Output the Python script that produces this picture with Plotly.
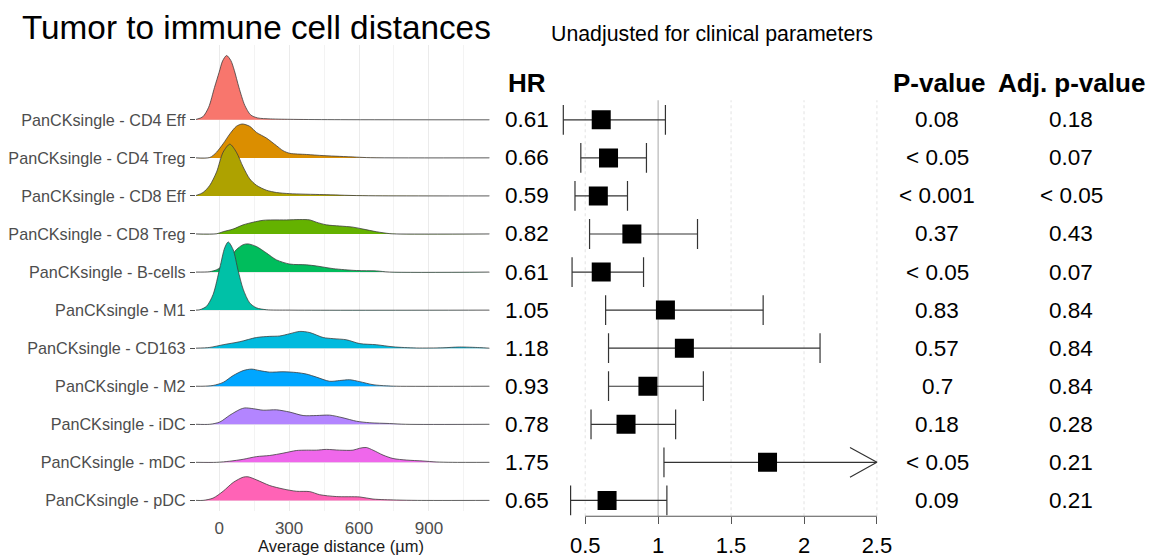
import plotly.graph_objects as go

W, H = 1149, 558

# ---------------- data ----------------
cells = ["PanCKsingle - CD4 Eff", "PanCKsingle - CD4 Treg", "PanCKsingle - CD8 Eff",
         "PanCKsingle - CD8 Treg", "PanCKsingle - B-cells", "PanCKsingle - M1",
         "PanCKsingle - CD163", "PanCKsingle - M2", "PanCKsingle - iDC",
         "PanCKsingle - mDC", "PanCKsingle - pDC"]
ridge_colors = ["#F8766D", "#DB8E00", "#AEA200", "#64B200", "#00BD5C", "#00C1A7",
                "#00BADE", "#00A6FF", "#B385FF", "#EF67EB", "#FF63B6"]

# density curves (x in µm, height in row units)
d_cd4eff_x = [-100, -70, -45, -20, 0, 15, 32, 50, 65, 85, 110, 135, 165, 220, 320, 520, 1160]
d_cd4eff_h = [0.01, 0.08, 0.33, 0.85, 1.25, 1.55, 1.69, 1.56, 1.3, 0.85, 0.38, 0.13, 0.05, 0.025, 0.012, 0.004, 0]
d_cd4treg_x = [-100, -40, -11, 17, 46, 74, 99, 131, 160, 203, 246, 274, 303, 374, 446, 517, 589, 650, 1160]
d_cd4treg_h = [0, 0.01, 0.15, 0.37, 0.63, 0.83, 0.89, 0.83, 0.67, 0.52, 0.32, 0.19, 0.12, 0.09, 0.06, 0.04, 0.02, 0.005, 0]
d_cd8eff_x = [-100, -69, -40, -11, 17, 46, 74, 103, 131, 160, 203, 246, 303, 446, 589, 700, 1160]
d_cd8eff_h = [0.01, 0.09, 0.28, 0.63, 1.15, 1.36, 1.15, 0.76, 0.45, 0.28, 0.15, 0.09, 0.06, 0.035, 0.01, 0.002, 0]
d_cd8treg_x = [-100, -11, 17, 60, 103, 146, 189, 231, 289, 346, 389, 417, 460, 517, 574, 617, 674, 731, 760, 1160]
d_cd8treg_h = [0, 0.005, 0.06, 0.13, 0.24, 0.31, 0.36, 0.37, 0.37, 0.38, 0.37, 0.31, 0.24, 0.21, 0.18, 0.13, 0.06, 0.01, 0, 0]
d_bcell_x = [-100, -40, -11, 17, 46, 74, 103, 124, 160, 203, 246, 303, 374, 417, 489, 589, 674, 731, 1160]
d_bcell_h = [0, 0.01, 0.06, 0.17, 0.37, 0.59, 0.72, 0.74, 0.67, 0.5, 0.32, 0.21, 0.19, 0.16, 0.09, 0.04, 0.03, 0.0, 0]
d_m1_x = [-100, -83, -54, -26, 3, 24, 39, 60, 81, 103, 131, 160, 203, 300, 1160]
d_m1_h = [0, 0.01, 0.1, 0.41, 1.11, 1.64, 1.79, 1.59, 1.05, 0.55, 0.19, 0.06, 0.01, 0, 0]
d_cd163_x = [-100, -40, 17, 89, 160, 217, 260, 303, 346, 389, 446, 489, 546, 603, 674, 746, 846, 960, 1030, 1117, 1160]
d_cd163_h = [0, 0.02, 0.09, 0.17, 0.28, 0.31, 0.32, 0.38, 0.44, 0.41, 0.28, 0.25, 0.22, 0.12, 0.09, 0.035, 0.005, 0.01, 0.03, 0.015, 0]
d_m2_x = [-100, -69, -26, 17, 60, 103, 139, 174, 217, 274, 331, 374, 417, 474, 517, 560, 603, 660, 717, 760, 1160]
d_m2_h = [0, 0, 0.02, 0.1, 0.28, 0.41, 0.45, 0.41, 0.37, 0.38, 0.36, 0.32, 0.24, 0.13, 0.15, 0.17, 0.12, 0.04, 0.01, 0, 0]
d_idc_x = [-100, -40, 3, 46, 89, 110, 146, 189, 246, 303, 360, 417, 474, 531, 589, 646, 731, 800, 1160]
d_idc_h = [0, 0, 0.06, 0.24, 0.39, 0.43, 0.41, 0.37, 0.38, 0.32, 0.23, 0.23, 0.24, 0.17, 0.08, 0.04, 0.02, 0, 0]
d_mdc_x = [-100, -11, 46, 103, 160, 217, 274, 331, 374, 417, 460, 517, 574, 603, 631, 660, 703, 746, 803, 874, 931, 1000, 1160]
d_mdc_h = [0, 0, 0.03, 0.08, 0.15, 0.18, 0.24, 0.31, 0.32, 0.32, 0.34, 0.32, 0.32, 0.37, 0.39, 0.32, 0.19, 0.10, 0.06, 0.035, 0.01, 0, 0]
d_pdc_x = [-100, -69, -26, 17, 60, 103, 124, 160, 217, 274, 331, 389, 431, 503, 603, 660, 760, 850, 1160]
d_pdc_h = [0, 0, 0.06, 0.24, 0.47, 0.61, 0.62, 0.54, 0.39, 0.30, 0.24, 0.23, 0.15, 0.10, 0.09, 0.035, 0.01, 0, 0]

dens_x = [d_cd4eff_x, d_cd4treg_x, d_cd8eff_x, d_cd8treg_x, d_bcell_x, d_m1_x,
          d_cd163_x, d_m2_x, d_idc_x, d_mdc_x, d_pdc_x]
dens_h = [d_cd4eff_h, d_cd4treg_h, d_cd8eff_h, d_cd8treg_h, d_bcell_h, d_m1_h,
          d_cd163_h, d_m2_h, d_idc_h, d_mdc_h, d_pdc_h]

dist_ticks = [0, 300, 600, 900]

hr = [0.61, 0.66, 0.59, 0.82, 0.61, 1.05, 1.18, 0.93, 0.78, 1.75, 0.65]
ci_lo = [0.35, 0.47, 0.43, 0.53, 0.41, 0.64, 0.66, 0.66, 0.54, 1.04, 0.40]
ci_hi = [1.05, 0.92, 0.79, 1.27, 0.90, 1.72, 2.11, 1.31, 1.12, 2.90, 1.06]
p_val = ["0.08", "< 0.05", "< 0.001", "0.37", "< 0.05", "0.83", "0.57", "0.7", "0.18", "< 0.05", "0.09"]
adj_p = ["0.18", "0.07", "< 0.05", "0.43", "0.07", "0.84", "0.84", "0.84", "0.28", "0.21", "0.21"]
hr_ticks = [0.5, 1, 1.5, 2, 2.5]
hr_ticktext = ["0.5", "1", "1.5", "2", "2.5"]

# ---------------- layout helpers ----------------
FONT = "Liberation Sans, Arial, Helvetica, sans-serif"
n = len(cells)
pos = [n - 1 - i for i in range(n)]          # top row highest
ROW_PX = 38.33
Y0_PX = 504.0                                 # pixel of row value 0


def px_to_paper_x(p):
    return p / W


def px_to_paper_y(p):
    return 1 - p / H


def yrange(top_px, bot_px):
    return [-(bot_px - Y0_PX) / ROW_PX, (Y0_PX - top_px) / ROW_PX]


fig = go.Figure()

# ---------------- ridgeline panel ----------------
for i in range(n):
    base = pos[i]
    xs = dens_x[i]
    fig.add_trace(go.Scatter(x=[xs[0], xs[-1]], y=[base, base], mode="lines",
                             line=dict(width=0, color="rgba(0,0,0,0)"),
                             hoverinfo="skip", showlegend=False, xaxis="x", yaxis="y"))
    fig.add_trace(go.Scatter(x=xs, y=[base + h for h in dens_h[i]], mode="lines",
                             line=dict(color="#3d3d3d", width=0.8, shape="spline", smoothing=0.8),
                             fill="tonexty", fillcolor=ridge_colors[i],
                             hoverinfo="skip", showlegend=False, xaxis="x", yaxis="y"))

# ---------------- forest panel ----------------
FX0, FX_PER = 585.7, 146.0      # px of HR=0.5, px per HR unit
x2_range = [0.25, 2.6]
x2_dom = [px_to_paper_x(FX0 + (x2_range[0] - 0.5) * FX_PER),
          px_to_paper_x(FX0 + (x2_range[1] - 0.5) * FX_PER)]
axis_max = hr_ticks[-1]
cap = 15 / ROW_PX
arr_dx = 27 / FX_PER

lx, ly = [], []
for i in range(n):
    y = pos[i]
    hi = min(ci_hi[i], axis_max)
    lx += [ci_lo[i], hi, None, ci_lo[i], ci_lo[i], None]
    ly += [y, y, None, y - cap, y + cap, None]
    if ci_hi[i] > axis_max:
        lx += [axis_max - arr_dx, axis_max, axis_max - arr_dx, None]
        ly += [y + cap, y, y - cap, None]
    else:
        lx += [hi, hi, None]
        ly += [y - cap, y + cap, None]
fig.add_trace(go.Scatter(x=lx, y=ly, mode="lines", line=dict(color="#333333", width=1.2),
                         hoverinfo="skip", showlegend=False, xaxis="x2", yaxis="y2"))
fig.add_trace(go.Scatter(x=hr, y=pos, mode="markers",
                         marker=dict(symbol="square", size=19, color="black"),
                         hoverinfo="skip", showlegend=False, xaxis="x2", yaxis="y2"))

shapes = []
for t in hr_ticks:
    solid = (t == 1)
    shapes.append(dict(type="line", xref="x2", yref="y2 domain", x0=t, x1=t, y0=0, y1=1,
                       line=dict(color="#a8a8a8" if solid else "#e2e2e2", width=1,
                                 dash="solid" if solid else "3px,3px"), layer="below"))
shapes.append(dict(type="line", xref="x2", yref="y2 domain", x0=hr_ticks[0], x1=hr_ticks[-1],
                   y0=0, y1=0, line=dict(color="#555555", width=1.2)))

# ---------------- text ----------------
ann = []
ann.append(dict(text="Tumor to immune cell distances", xref="paper", yref="paper",
                x=px_to_paper_x(20), y=px_to_paper_y(28), xanchor="left", yanchor="middle",
                showarrow=False, font=dict(size=33.3, color="black", family=FONT)))
ann.append(dict(text="Unadjusted for clinical parameters", xref="paper", yref="paper",
                x=px_to_paper_x(713), y=px_to_paper_y(34), xanchor="center", yanchor="middle",
                showarrow=False, font=dict(size=21.3, color="black", family=FONT)))
ann.append(dict(text="Average distance (µm)", xref="paper", yref="paper",
                x=px_to_paper_x(341), y=px_to_paper_y(550), xanchor="center", yanchor="middle",
                showarrow=False, font=dict(size=16.5, color="#1a1a1a", family=FONT)))
for txt, cx in [("<b>HR</b>", 527), ("<b>P-value</b>", 940), ("<b>Adj. p-value</b>", 1072)]:
    ann.append(dict(text=txt, xref="paper", yref="paper", x=px_to_paper_x(cx),
                    y=px_to_paper_y(84), xanchor="center", yanchor="middle", showarrow=False,
                    font=dict(size=26, color="black", family=FONT)))
for i in range(n):
    for txt, cx in [(f"{hr[i]:.2f}", 527), (p_val[i], 938), (adj_p[i], 1072)]:
        ann.append(dict(text=txt, xref="paper", yref="y2", x=px_to_paper_x(cx), y=pos[i],
                        xanchor="center", yanchor="middle", showarrow=False,
                        font=dict(size=22.5, color="black", family=FONT)))

left_yr = yrange(45, 515)
right_yr = yrange(101, 520)

fig.update_layout(
    width=W, height=H, margin=dict(l=0, r=0, t=0, b=0),
    paper_bgcolor="white", plot_bgcolor="white",
    font=dict(family=FONT),
    showlegend=False,
    shapes=shapes, annotations=ann,
    xaxis=dict(domain=[px_to_paper_x(196), px_to_paper_x(490)], range=[-100, 1160],
               tickvals=dist_ticks, ticks="", showgrid=True, gridcolor="#ebebeb", gridwidth=1,
               minor=dict(dtick=150, tick0=150, showgrid=True, gridcolor="#f3f3f3", gridwidth=1),
               zeroline=False, showline=False, ticklabelstandoff=5,
               tickfont=dict(size=17, color="#4d4d4d", family=FONT), anchor="y"),
    yaxis=dict(domain=[px_to_paper_y(515), px_to_paper_y(45)], range=left_yr,
               tickvals=pos, ticktext=cells, ticks="outside", ticklen=5, tickcolor="#4d4d4d",
               showgrid=True, gridcolor="#ebebeb", zeroline=False, showline=False,
               ticklabelstandoff=1,
               tickfont=dict(size=16.2, color="#4d4d4d", family=FONT), anchor="x"),
    xaxis2=dict(domain=x2_dom, range=x2_range, tickvals=hr_ticks, ticktext=hr_ticktext,
                ticks="outside", ticklen=7, tickcolor="#555555", showgrid=False,
                zeroline=False, showline=False, ticklabelstandoff=2,
                tickfont=dict(size=22, color="black", family=FONT), anchor="y2"),
    yaxis2=dict(domain=[px_to_paper_y(520), px_to_paper_y(101)], range=right_yr,
                visible=False, anchor="x2"),
)

fig.write_html("out.html")
